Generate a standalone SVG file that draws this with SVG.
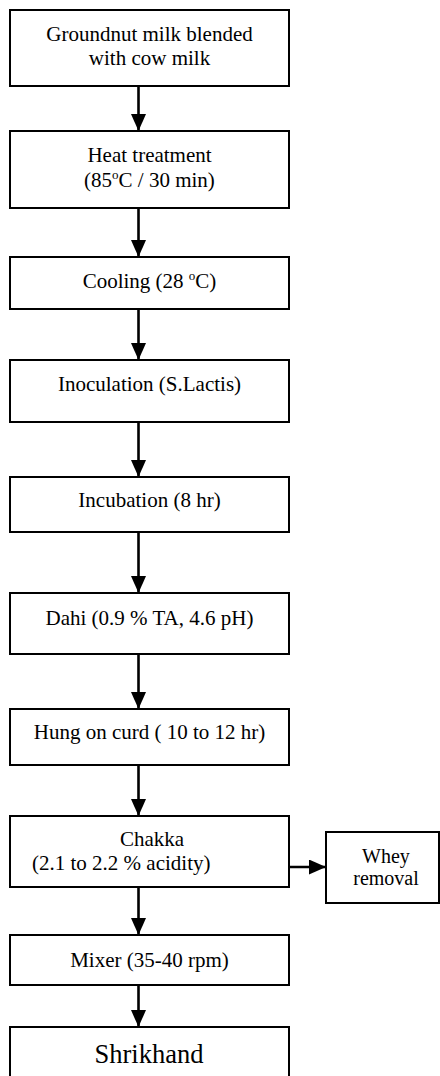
<svg xmlns="http://www.w3.org/2000/svg" width="440" height="1076" viewBox="0 0 440 1076">
<style>
.box{fill:#fff;stroke:#000;stroke-width:2}
.t{font-family:"Liberation Serif","Times New Roman",serif;font-size:21px;fill:#000;text-anchor:middle}
.c{stroke:#000;stroke-width:2.6;fill:none;marker-end:url(#ah)}
</style>
<defs>
<marker id="ah" markerUnits="userSpaceOnUse" markerWidth="17" markerHeight="15" refX="17" refY="7.5" orient="auto">
<path d="M0,0 L17,7.5 L0,15 z" fill="#000"/>
</marker>
</defs>
<rect width="440" height="1076" fill="#fff"/>
<g id="connectors">
<line class="c" x1="138.5" y1="86" x2="138.5" y2="131"/>
<line class="c" x1="138.5" y1="208" x2="138.5" y2="257"/>
<line class="c" x1="138.5" y1="309" x2="138.5" y2="360"/>
<line class="c" x1="138.5" y1="422" x2="138.5" y2="477"/>
<line class="c" x1="138.5" y1="532" x2="138.5" y2="593"/>
<line class="c" x1="138.5" y1="654" x2="138.5" y2="709"/>
<line class="c" x1="138.5" y1="765" x2="138.5" y2="816"/>
<line class="c" x1="138.5" y1="887" x2="138.5" y2="935"/>
<line class="c" x1="138.5" y1="985" x2="138.5" y2="1027"/>
<line class="c" x1="289" y1="867" x2="326" y2="867"/>
</g>
<g id="n1"><rect class="box" x="10" y="10" width="279" height="76"/>
<text class="t" x="149.5" y="40.5">Groundnut milk blended</text>
<text class="t" x="149.5" y="65">with cow milk</text></g>
<g id="n2"><rect class="box" x="10" y="131" width="279" height="77"/>
<text class="t" x="149.5" y="162">Heat treatment</text>
<text class="t" x="149.5" y="187">(85<tspan dy="-8" font-size="13">o</tspan><tspan dy="8">C / 30 min)</tspan></text></g>
<g id="n3"><rect class="box" x="10" y="257" width="279" height="52"/>
<text class="t" x="149.5" y="288">Cooling (28 <tspan dy="-8" font-size="13">o</tspan><tspan dy="8">C)</tspan></text></g>
<g id="n4"><rect class="box" x="10" y="360" width="279" height="62"/>
<text class="t" x="149.5" y="390.5">Inoculation (S.Lactis)</text></g>
<g id="n5"><rect class="box" x="10" y="477" width="279" height="55"/>
<text class="t" x="149.5" y="507">Incubation (8 hr)</text></g>
<g id="n6"><rect class="box" x="10" y="593" width="279" height="61"/>
<text class="t" x="149.5" y="625">Dahi (0.9 % TA, 4.6 pH)</text></g>
<g id="n7"><rect class="box" x="10" y="709" width="279" height="56"/>
<text class="t" x="149.5" y="739">Hung on curd ( 10 to 12 hr)</text></g>
<g id="n8"><rect class="box" x="10" y="816" width="279" height="71"/>
<text class="t" x="152" y="846">Chakka</text>
<text class="t" x="32" y="870" style="text-anchor:start">(2.1 to 2.2 % acidity)</text></g>
<g id="n9"><rect class="box" x="326" y="832" width="113" height="71"/>
<text class="t" x="386" y="863" style="font-size:20px">Whey</text>
<text class="t" x="386" y="885" style="font-size:20px">removal</text></g>
<g id="n10"><rect class="box" x="10" y="935" width="279" height="50"/>
<text class="t" x="149.5" y="966.5">Mixer (35-40 rpm)</text></g>
<g id="n11"><rect class="box" x="10" y="1027" width="279" height="70"/>
<text class="t" x="149" y="1063" style="font-size:26.5px">Shrikhand</text></g>
</svg>
